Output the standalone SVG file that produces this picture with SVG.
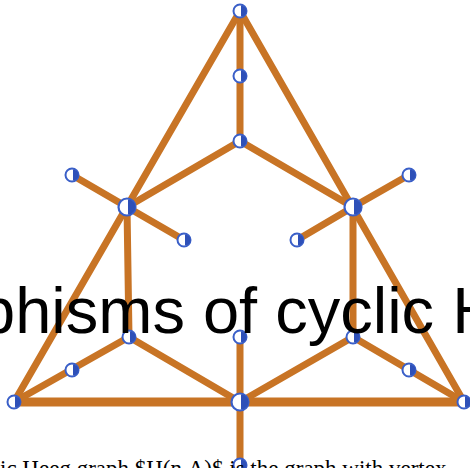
<svg xmlns="http://www.w3.org/2000/svg" xmlns:xlink="http://www.w3.org/1999/xlink" width="470" height="468" viewBox="0 0 470 468">
<style>
.e{stroke:#C87425;stroke-width:7;stroke-linecap:round;fill:none}
.eb{stroke:#C87425;stroke-width:9;stroke-linecap:butt;fill:none}
.big{font-family:"Liberation Sans",Arial,sans-serif;font-size:65px;fill:#000}
.cap{font-family:"Liberation Serif","Times New Roman",serif;font-size:23px;fill:#000}
</style>
<defs>
<g id="nd"><circle r="6.5" fill="#fff" stroke="#3A5FC8" stroke-width="2"/><path d="M1,-5.5 A5.5,5.5 0 0 1 1,5.5 Z" fill="#2E50B8"/></g>
<g id="ndL"><circle r="8.5" fill="#fff" stroke="#3A5FC8" stroke-width="2.2"/><path d="M1,-7.4 A7.4,7.4 0 0 1 1,7.4 Z" fill="#2E50B8"/></g>
</defs>
<rect width="470" height="468" fill="#fff"/>
<g id="edges">
<line class="e" x1="240" y1="11" x2="240" y2="141"/>
<line class="e" x1="240" y1="11" x2="14" y2="402"/>
<line class="e" x1="240" y1="11" x2="464" y2="402"/>
<line class="e" x1="240" y1="141" x2="127" y2="207"/>
<line class="e" x1="240" y1="141" x2="353" y2="207"/>
<line class="e" x1="127" y1="207" x2="72" y2="175"/>
<line class="e" x1="127" y1="207" x2="184" y2="240"/>
<line class="e" x1="353" y1="207" x2="409" y2="175"/>
<line class="e" x1="353" y1="207" x2="297" y2="240"/>
<line class="e" x1="127" y1="207" x2="129" y2="337"/>
<line class="e" x1="353" y1="207" x2="353" y2="337"/>
<line class="e" x1="129" y1="337" x2="240" y2="402"/>
<line class="e" x1="129" y1="337" x2="14" y2="402"/>
<line class="e" x1="353" y1="337" x2="240" y2="402"/>
<line class="e" x1="353" y1="337" x2="464" y2="402"/>
<line class="e" x1="240" y1="337" x2="240" y2="468"/>
<line class="eb" x1="14" y1="402" x2="464" y2="402"/>
</g>
<g id="v1"><use xlink:href="#nd" x="240" y="11"/></g>
<g id="v2"><use xlink:href="#nd" x="240" y="76"/></g>
<g id="v3"><use xlink:href="#nd" x="240" y="141"/></g>
<g id="v4"><use xlink:href="#ndL" x="127" y="207"/></g>
<g id="v5"><use xlink:href="#ndL" x="353" y="207"/></g>
<g id="v6"><use xlink:href="#nd" x="72" y="175"/></g>
<g id="v7"><use xlink:href="#nd" x="184" y="240"/></g>
<g id="v8"><use xlink:href="#nd" x="409" y="175"/></g>
<g id="v9"><use xlink:href="#nd" x="297" y="240"/></g>
<g id="v10"><use xlink:href="#nd" x="129" y="337"/></g>
<g id="v11"><use xlink:href="#nd" x="240" y="337"/></g>
<g id="v12"><use xlink:href="#nd" x="353" y="337"/></g>
<g id="v13"><use xlink:href="#nd" x="72" y="370"/></g>
<g id="v14"><use xlink:href="#nd" x="409" y="370"/></g>
<g id="v15"><use xlink:href="#nd" x="14" y="402"/></g>
<g id="v16"><use xlink:href="#ndL" x="240" y="402"/></g>
<g id="v17"><use xlink:href="#nd" x="464" y="402"/></g>
<g id="v18"><use xlink:href="#nd" x="240" y="465"/></g>
<text class="big" x="-21" y="333">phisms of cyclic H</text>
<text class="cap" x="0" y="476">ic Heeg graph $H(n,A)$ is the graph with vertex</text>
</svg>
